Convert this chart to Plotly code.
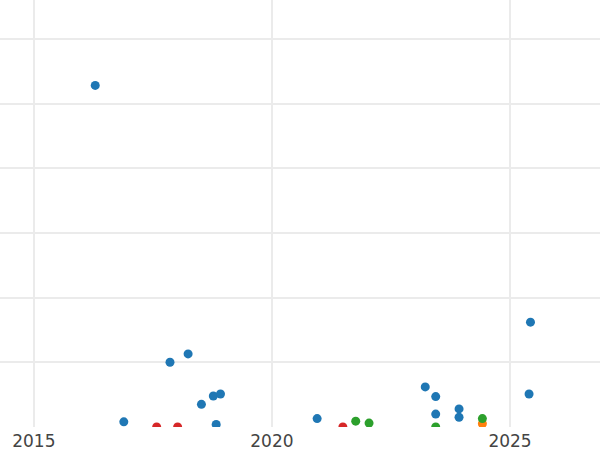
import plotly.graph_objects as go

# Series data (year, value)
blue_x = [2016.29, 2016.89, 2017.86, 2018.24, 2018.52, 2018.77, 2018.92, 2018.83,
          2020.95, 2023.22, 2023.44, 2023.44, 2023.93, 2023.93, 2025.43, 2025.40]
blue_y = [52.8, 0.8, 10.0, 11.3, 3.5, 4.8, 5.1, 0.4,
          1.3, 6.2, 4.7, 2.0, 2.8, 1.5, 16.2, 5.1]

orange_x = [2024.42]
orange_y = [0.5]

green_x = [2021.76, 2022.04, 2023.44, 2024.42]
green_y = [0.9, 0.6, 0.0, 1.3]

red_x = [2017.58, 2018.02, 2021.49]
red_y = [0.0, 0.0, 0.0]

x_ticks = [2015, 2020, 2025]
x_tick_labels = ["2015", "2020", "2025"]

series = [
    ("blue", blue_x, blue_y, "#1f77b4"),
    ("orange", orange_x, orange_y, "#ff7f0e"),
    ("green", green_x, green_y, "#2ca02c"),
    ("red", red_x, red_y, "#d62728"),
]

fig = go.Figure()
for name, xs, ys, color in series:
    fig.add_trace(go.Scatter(x=xs, y=ys, mode="markers", name=name,
                             marker=dict(color=color, size=9, line=dict(width=0))))

fig.update_layout(
    width=600, height=450,
    margin=dict(l=0, r=0, t=0, b=23),
    paper_bgcolor="white", plot_bgcolor="white",
    showlegend=False,
    font=dict(family="DejaVu Sans", size=17, color="#444444"),
)
fig.update_xaxes(range=[2014.29, 2026.89], tickvals=x_ticks, ticktext=x_tick_labels,
                 showgrid=True, gridcolor="#ebebeb", gridwidth=2,
                 zeroline=False, showline=False, ticks="", ticklen=0,
                 ticklabelstandoff=2)
fig.update_yaxes(range=[0, 66], dtick=10, showticklabels=False,
                 showgrid=True, gridcolor="#ebebeb", gridwidth=1.5,
                 zeroline=False, showline=False, ticks="")

fig.write_html("out.html", config={"displayModeBar": False},
               post_script="document.body.style.margin='0';document.body.style.padding='0';")
